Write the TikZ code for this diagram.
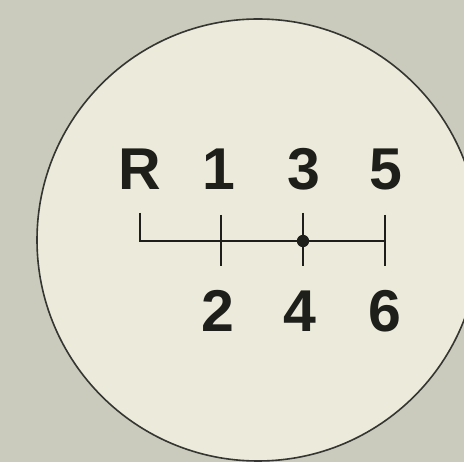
\documentclass[tikz,border=0pt]{standalone}
\usepackage{fontspec}
\setmainfont{Liberation Sans}
\definecolor{bgc}{RGB}{203,203,189}
\definecolor{knob}{RGB}{235,234,219}
\definecolor{ink}{RGB}{30,30,26}
\begin{document}
\begin{tikzpicture}[x=1pt,y=-1pt,
  gear/.style={font=\fontsize{59}{62}\selectfont\bfseries, text=ink, inner sep=0pt, anchor=base},
  gate/.style={draw=ink, line width=2.2pt},
  rim/.style={draw=ink!90, line width=1.6pt, fill=knob}]
\useasboundingbox (0,0) rectangle (464,462);
\fill[bgc] (0,0) rectangle (464,462);
\begin{scope}
\clip (0,0) rectangle (464,462);
\path[rim] (258,240) circle[radius=221];
\end{scope}
% labels
\node[gear] (R) at (140,190) {R};
\node[gear] (g1) at (219,190) {1};
\node[gear] (g3) at (304,190) {3};
\node[gear] (g5) at (386,190) {5};
\node[gear] (g2) at (218,332) {2};
\node[gear] (g4) at (300,332) {4};
\node[gear] (g6) at (385,332) {6};
% gate coordinates
\coordinate (rt) at (140,213);
\coordinate (rb) at (140,241);
\coordinate (at) at (221,215);
\coordinate (ab) at (221,266);
\coordinate (bt) at (303,213);
\coordinate (bb) at (303,266);
\coordinate (ct) at (385,215);
\coordinate (cb) at (385,266);
\coordinate (ce) at (385,241);
\coordinate (n) at (303,241);
\draw[gate] (rt) -- (rb) -- (ce);
\draw[gate] (at) -- (ab);
\draw[gate] (bt) -- (bb);
\draw[gate] (ct) -- (cb);
\fill[ink] (n) circle[radius=6.2];
\end{tikzpicture}
\end{document}
